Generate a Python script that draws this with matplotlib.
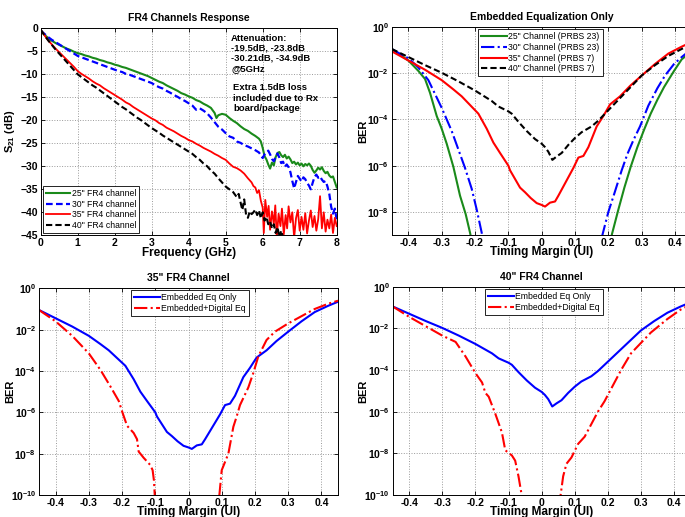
import numpy as np
import matplotlib
matplotlib.use("Agg")
import matplotlib.pyplot as plt
from matplotlib.ticker import FixedLocator, FuncFormatter

plt.rcParams['font.family'] = ['Liberation Sans', 'DejaVu Sans']
plt.rcParams['mathtext.fontset'] = 'custom'
plt.rcParams['mathtext.bf'] = 'Liberation Sans:bold'
plt.rcParams['mathtext.rm'] = 'Liberation Sans:bold'
plt.rcParams['mathtext.default'] = 'bf'

GREEN = '#1a8a1a'
BLUE = '#0000ff'
RED = '#ff0000'
BLACK = '#000000'

# ---- FR4 channel response (S21 in dB vs GHz) ----
f25 = [0.0, 0.1, 0.2, 0.3, 0.4, 0.5, 0.6, 0.7, 0.8, 0.9, 1.0, 1.1, 1.2, 1.3, 1.4, 1.5, 1.6, 1.7, 1.8, 1.9,
       2.0, 2.1, 2.2, 2.3, 2.4, 2.5, 2.6, 2.7, 2.8, 2.9, 3.0, 3.1, 3.2, 3.3, 3.4, 3.5, 3.6, 3.7, 3.8, 3.9,
       4.0, 4.1, 4.2, 4.3, 4.4, 4.5, 4.6, 4.7, 4.75, 4.8, 4.9, 5.0, 5.1, 5.2, 5.3, 5.4, 5.5, 5.6, 5.7, 5.8,
       5.9, 5.95, 6.0, 6.05, 6.1, 6.15, 6.2, 6.25, 6.3, 6.35, 6.4, 6.45, 6.5, 6.55, 6.6, 6.65, 6.7, 6.75,
       6.8, 6.85, 6.9, 6.95, 7.0, 7.05, 7.1, 7.15, 7.2, 7.25, 7.3, 7.35, 7.4, 7.45, 7.5, 7.55, 7.6, 7.65,
       7.7, 7.75, 7.8, 7.85, 7.9, 7.95, 8.0]
s25 = [-0.5, -1.4, -2.1, -2.7, -3.2, -3.6, -4.0, -4.4, -4.7, -5.1, -5.4, -5.6, -5.9, -6.1, -6.4, -6.6, -6.9, -7.1, -7.4, -7.6,
       -7.9, -8.1, -8.4, -8.6, -8.9, -9.2, -9.5, -9.8, -10.1, -10.4, -10.8, -11.2, -11.6, -11.9, -12.4, -12.8, -13.2, -13.6, -14.1, -14.4,
       -14.8, -15.1, -15.6, -15.9, -16.4, -16.8, -17.3, -18.4, -19.5, -18.9, -18.6, -18.8, -19.5, -20.1, -20.6, -21.3, -21.9, -22.3, -22.9, -23.4,
       -24.0, -24.6, -26.0, -27.8, -28.5, -29.6, -30.5, -29.2, -29.8, -28.0, -27.1, -26.9, -27.6, -28.0, -27.5, -28.3, -27.9, -28.5,
       -29.3, -29.0, -29.6, -29.2, -29.8, -29.4, -30.0, -29.5, -29.8, -29.4, -29.9, -30.8, -31.4, -30.9, -30.3, -30.7, -30.2, -31.0,
       -31.5, -31.2, -32.0, -32.4, -32.2, -33.4, -34.6]

f30 = [0.0, 0.1, 0.2, 0.3, 0.4, 0.5, 0.6, 0.7, 0.8, 0.9, 1.0, 1.1, 1.2, 1.3, 1.4, 1.5, 1.6, 1.7, 1.8, 1.9,
       2.0, 2.1, 2.2, 2.3, 2.4, 2.5, 2.6, 2.7, 2.8, 2.9, 3.0, 3.1, 3.2, 3.3, 3.4, 3.5, 3.6, 3.7, 3.8, 3.9,
       4.0, 4.1, 4.2, 4.3, 4.4, 4.5, 4.6, 4.7, 4.8, 4.9, 5.0, 5.1, 5.2, 5.3, 5.4, 5.5, 5.6, 5.7, 5.8, 5.9,
       5.95, 6.0, 6.05, 6.1, 6.15, 6.2, 6.25, 6.3, 6.35, 6.4, 6.45, 6.5, 6.55, 6.6, 6.65, 6.7, 6.75, 6.8,
       6.85, 6.9, 6.95, 7.0, 7.05, 7.1, 7.15, 7.2, 7.25, 7.3, 7.35, 7.4, 7.45, 7.5, 7.55, 7.6, 7.65, 7.7,
       7.75, 7.8, 7.85, 7.9, 7.95, 8.0]
s30 = [-0.5, -1.2, -1.9, -2.5, -3.0, -3.5, -4.0, -4.5, -5.0, -5.5, -6.0, -6.3, -6.6, -6.9, -7.2, -7.5, -7.8, -8.1, -8.4, -8.7,
       -9.0, -9.3, -9.5, -9.9, -10.1, -10.4, -10.7, -11.0, -11.3, -11.6, -11.9, -12.4, -12.8, -13.1, -13.6, -14.0, -14.5, -14.9, -15.4, -15.8,
       -16.3, -16.8, -17.7, -17.4, -17.9, -18.5, -19.4, -20.4, -21.4, -22.0, -22.8, -23.5, -23.8, -24.6, -24.9, -25.4, -25.7, -26.1, -26.5, -27.0,
       -27.6, -28.2, -27.4, -27.0, -26.6, -27.4, -28.4, -28.9, -28.0, -27.2, -28.1, -29.3, -29.0, -30.1, -29.6, -30.2, -31.3, -33.2,
       -34.8, -33.4, -32.1, -32.7, -33.3, -32.4, -32.8, -33.6, -34.2, -35.0, -33.6, -32.3, -31.8, -32.5, -32.2, -32.9, -33.4, -33.2,
       -34.4, -36.0, -38.8, -40.3, -39.2, -41.7]

f35 = [0.0, 0.1, 0.2, 0.3, 0.4, 0.5, 0.6, 0.7, 0.8, 0.9, 1.0, 1.1, 1.2, 1.3, 1.4, 1.5, 1.6, 1.7, 1.8, 1.9,
       2.0, 2.1, 2.2, 2.3, 2.4, 2.5, 2.6, 2.7, 2.8, 2.9, 3.0, 3.1, 3.2, 3.3, 3.4, 3.5, 3.6, 3.7, 3.8, 3.9,
       4.0, 4.1, 4.2, 4.3, 4.4, 4.5, 4.6, 4.7, 4.8, 4.9, 5.0, 5.1, 5.2, 5.3, 5.4, 5.5, 5.6, 5.7, 5.75, 5.8,
       5.85, 5.9, 5.95, 6.0, 6.03, 6.07, 6.12, 6.16, 6.2, 6.25, 6.3, 6.34, 6.38, 6.43, 6.48, 6.52, 6.57, 6.62,
       6.66, 6.7, 6.75, 6.8, 6.85, 6.9, 6.95, 7.0, 7.05, 7.1, 7.15, 7.2, 7.25, 7.3, 7.35, 7.4, 7.45, 7.5,
       7.55, 7.6, 7.65, 7.7, 7.75, 7.8, 7.85, 7.9, 7.95, 8.0]
s35 = [-0.3, -1.5, -2.6, -3.5, -4.4, -5.2, -6.0, -6.8, -7.6, -8.4, -9.3, -9.9, -10.4, -10.9, -11.5, -12.0, -12.4, -13.0, -13.5, -14.0,
       -14.5, -15.0, -15.5, -16.1, -16.5, -17.1, -17.6, -18.1, -18.6, -19.1, -19.6, -20.0, -20.6, -21.0, -21.6, -22.0, -22.4, -22.9, -23.4, -23.8,
       -24.3, -24.6, -25.1, -25.5, -26.0, -26.4, -26.8, -27.3, -27.7, -28.2, -28.6, -29.4, -30.1, -30.4, -30.9, -31.6, -32.6, -33.5, -34.3, -34.6,
       -35.8, -35.2, -37.5, -39.0, -44.5, -37.3, -41.0, -38.6, -43.8, -39.8, -42.5, -38.5, -45.5, -40.3, -43.0, -39.2, -44.8, -40.6,
       -43.5, -38.7, -42.2, -40.0, -45.5, -41.3, -39.5, -44.0, -41.0, -43.8, -40.2, -44.6, -41.8, -39.6, -43.2, -40.8, -44.0, -41.5,
       -36.5, -43.5, -40.0, -44.2, -41.6, -43.5, -40.5, -44.5, -41.2, -43.0]

f40 = [0.0, 0.1, 0.2, 0.3, 0.4, 0.5, 0.6, 0.7, 0.8, 0.9, 1.0, 1.1, 1.2, 1.3, 1.4, 1.5, 1.6, 1.7, 1.8, 1.9,
       2.0, 2.1, 2.2, 2.3, 2.4, 2.5, 2.6, 2.7, 2.8, 2.9, 3.0, 3.1, 3.2, 3.3, 3.4, 3.5, 3.6, 3.7, 3.8, 3.9,
       4.0, 4.1, 4.2, 4.3, 4.4, 4.5, 4.6, 4.7, 4.8, 4.9, 5.0, 5.1, 5.2, 5.3, 5.35, 5.4, 5.45, 5.5, 5.55, 5.6,
       5.65, 5.7, 5.75, 5.8, 5.85, 5.9, 5.95, 6.0, 6.05, 6.1, 6.15, 6.2, 6.25, 6.3, 6.35, 6.4, 6.45, 6.5,
       6.55, 6.6]
s40 = [-0.3, -1.5, -2.6, -3.6, -4.6, -5.5, -6.4, -7.3, -8.2, -9.1, -10.0, -10.6, -11.2, -11.8, -12.4, -12.9, -13.5, -14.1, -14.7, -15.3,
       -15.9, -16.5, -17.1, -17.6, -18.2, -18.8, -19.4, -19.9, -20.5, -21.1, -21.7, -22.2, -22.7, -23.3, -23.8, -24.3, -24.8, -25.3, -25.8, -26.3,
       -26.8, -27.3, -28.0, -28.6, -29.4, -30.0, -30.9, -31.6, -32.6, -33.5, -34.4, -35.0, -35.6, -36.7, -36.0, -37.8, -39.5, -37.2, -40.5, -41.2,
       -39.8, -40.4, -40.0, -39.4, -40.6, -39.6, -41.3, -40.0, -41.8, -41.0, -42.6, -42.0, -43.5, -42.6, -44.5, -43.2, -45.5, -44.0,
       -45.5, -47.0]

fr4_labels = ['25" FR4 channel', '30" FR4 channel', '35" FR4 channel', '40" FR4 channel']

# ---- BER bathtub curves (log10 BER vs timing margin in UI) ----
t25 = [-0.45, -0.42, -0.4, -0.37, -0.35, -0.335, -0.315, -0.3, -0.285, -0.265, -0.245, -0.228, -0.215, -0.205,
       0.2, 0.211, 0.23, 0.248, 0.267, 0.287, 0.307, 0.327, 0.347, 0.367, 0.397, 0.42, 0.45]
b25 = [-0.95, -1.25, -1.45, -1.9, -2.25, -2.85, -3.85, -4.4, -5.05, -6.05, -7.3, -8.1, -8.9, -9.6,
       -9.6, -8.95, -7.9, -6.95, -6.05, -5.2, -4.45, -3.75, -3.15, -2.6, -1.9, -1.4, -1.05]

t30 = [-0.45, -0.42, -0.4, -0.37, -0.34, -0.3, -0.27, -0.25, -0.23, -0.21, -0.195, -0.18, -0.172,
       0.172, 0.183, 0.2, 0.218, 0.24, 0.257, 0.275, 0.295, 0.32, 0.347, 0.37, 0.397, 0.42, 0.45]
b30 = [-0.95, -1.2, -1.35, -1.75, -2.3, -3.5, -4.5, -5.3, -6.1, -7.0, -7.9, -8.9, -9.6,
       -9.6, -8.95, -8.0, -7.2, -6.2, -5.5, -4.9, -4.3, -3.4, -2.65, -2.1, -1.6, -1.3, -0.95]

# embedded equalization only
t35 = [-0.45, -0.4, -0.35, -0.3, -0.265, -0.24, -0.2, -0.19, -0.165, -0.145, -0.125, -0.1, -0.095, -0.065,
       -0.05, -0.033, -0.015, 0.0, 0.01, 0.025, 0.04, 0.05, 0.065, 0.08, 0.095, 0.11, 0.125, 0.14, 0.165,
       0.185, 0.205, 0.235, 0.265, 0.3, 0.34, 0.38, 0.42, 0.45]
b35 = [-1.05, -1.45, -1.85, -2.3, -2.7, -3.0, -3.6, -3.75, -4.4, -5.0, -5.45, -6.0, -6.2, -6.95,
       -7.15, -7.4, -7.62, -7.7, -7.77, -7.6, -7.55, -7.3, -6.9, -6.5, -6.1, -5.65, -5.58, -5.2, -4.3,
       -3.85, -3.35, -3.0, -2.55, -2.1, -1.6, -1.15, -0.85, -0.65]

t40 = [-0.45, -0.4, -0.35, -0.3, -0.25, -0.2, -0.15, -0.13, -0.1, -0.09, -0.07, -0.045, -0.02, 0.0, 0.01,
       0.02, 0.032, 0.045, 0.06, 0.08, 0.1, 0.12, 0.15, 0.17, 0.2, 0.23, 0.26, 0.3, 0.34, 0.38, 0.42, 0.45]
b40 = [-0.95, -1.3, -1.65, -1.98, -2.35, -2.75, -3.2, -3.44, -3.65, -3.75, -4.1, -4.5, -4.85, -5.05, -5.2,
       -5.4, -5.75, -5.6, -5.45, -5.1, -4.8, -4.55, -4.3, -4.05, -3.6, -3.15, -2.7, -2.1, -1.65, -1.25, -0.95, -0.75]

# embedded + digital equalization
t35d = [-0.45, -0.4, -0.35, -0.3, -0.265, -0.235, -0.21, -0.2, -0.185, -0.165, -0.155, -0.15, -0.135, -0.115,
        -0.108, -0.104, -0.1,
        0.09, 0.1, 0.11, 0.12, 0.135, 0.145, 0.155, 0.18, 0.195, 0.21, 0.235, 0.26, 0.3, 0.34, 0.38, 0.42, 0.45]
b35d = [-1.05, -1.6, -2.3, -3.15, -3.95, -4.75, -5.45, -5.95, -6.65, -7.0, -7.3, -7.9, -8.2, -8.55,
        -8.8, -9.3, -10.5,
        -10.5, -8.8, -8.4, -8.0, -6.7, -6.2, -5.65, -4.8, -4.1, -3.3, -2.5, -2.1, -1.7, -1.35, -1.0, -0.75, -0.6]

t40d = [-0.45, -0.4, -0.35, -0.3, -0.26, -0.23, -0.2, -0.18, -0.17, -0.16, -0.14, -0.12, -0.11, -0.09,
        -0.08, -0.07, -0.055,
        0.053, 0.065, 0.075, 0.09, 0.11, 0.13, 0.15, 0.17, 0.19, 0.21, 0.24, 0.27, 0.3, 0.33, 0.38, 0.42, 0.45]
b40d = [-0.95, -1.45, -1.9, -2.35, -2.65, -3.35, -4.15, -4.6, -5.1, -5.28, -6.1, -7.0, -7.85, -8.1,
        -8.35, -9.1, -10.5,
        -10.5, -9.1, -8.5, -8.2, -7.55, -7.2, -6.6, -6.0, -5.5, -4.9, -4.0, -3.2, -2.7, -2.2, -1.55, -1.1, -0.85]

prbs_labels = ['25" Channel (PRBS 23)', '30" Channel (PRBS 23)', '35" Channel (PRBS 7)', '40" Channel (PRBS 7)']
eq_labels = ['Embedded Eq Only', 'Embedded+Digital Eq']
margin_ticks = [-0.4, -0.3, -0.2, -0.1, 0, 0.1, 0.2, 0.3, 0.4]

W, H = 685, 517
fig = plt.figure(figsize=(W / 100, H / 100), dpi=100)


def px_axes(l, t, r, b):
    return fig.add_axes([l / W, 1 - b / H, (r - l) / W, (b - t) / H])


def style(ax, ylab_x):
    ax.grid(True, linestyle=':', color='#9a9a9a', linewidth=0.7)
    ax.tick_params(direction='in', length=3, width=0.6, top=True, right=True,
                   labelsize=7.5, pad=2)
    for lab in ax.get_xticklabels() + ax.get_yticklabels():
        lab.set_fontweight('bold')
    for sp in ax.spines.values():
        sp.set_linewidth(0.7)
    ax.yaxis.set_label_coords(ylab_x, 0.5)
    ax.xaxis.set_label_coords(0.5, -0.055)
    ax.xaxis.label.set_va('top')


def add_legend(ax, loc, anchor, handlelength):
    leg = ax.legend(loc=loc, bbox_to_anchor=anchor, fontsize=6.2, handlelength=handlelength,
                    labelspacing=0.2, borderpad=0.35, handletextpad=0.2, borderaxespad=0.25,
                    fancybox=False, framealpha=1, edgecolor='black')
    leg.get_frame().set_linewidth(0.6)


def ber_axes(ax, title, bottom_exp, ticks, ylab_x):
    ax.set_yscale('log')
    ax.set_xlim(-0.45, 0.45)
    ax.set_ylim(10.0 ** bottom_exp, 1)
    ax.yaxis.set_major_locator(FixedLocator([10.0 ** e for e in ticks]))
    ax.yaxis.set_minor_locator(FixedLocator([]))
    ax.yaxis.set_major_formatter(FuncFormatter(lambda v, p: r'$10^{%d}$' % round(np.log10(v))))
    ax.set_xticks(margin_ticks)
    ax.set_xticklabels(['%g' % v for v in margin_ticks])
    ax.set_title(title, fontsize=7.5, fontweight='bold', pad=5)
    ax.set_xlabel('Timing Margin (UI)', fontsize=8.5, fontweight='bold')
    ax.set_ylabel('BER', fontsize=8, fontweight='bold')
    style(ax, ylab_x)


def ber(vals):
    return 10.0 ** np.array(vals)


# top left: channel response
ax1 = px_axes(40.7, 28.3, 336.7, 235.3)
ax1.plot(f25, s25, color=GREEN, lw=1.5, label=fr4_labels[0])
ax1.plot(f30, s30, color=BLUE, lw=1.6, ls=(0, (3, 1.5)), label=fr4_labels[1])
ax1.plot(f35, s35, color=RED, lw=1.3, label=fr4_labels[2])
ax1.plot(f40, s40, color=BLACK, lw=1.5, ls=(0, (3, 1.5)), label=fr4_labels[3])
ax1.set_xlim(0, 8)
ax1.set_ylim(-45, 0)
ax1.set_xticks(range(0, 9))
ax1.set_yticks(range(-45, 1, 5))
ax1.set_title('FR4 Channels Response', fontsize=7.5, fontweight='bold', pad=5)
ax1.set_xlabel('Frequency (GHz)', fontsize=8.5, fontweight='bold')
ax1.set_ylabel(r'$S_{21}$ (dB)', fontsize=8, fontweight='bold')
style(ax1, -0.08)
ax1.text(5.15, -1.2, 'Attenuation:\n-19.5dB, -23.8dB\n-30.21dB, -34.9dB\n@5GHz',
         fontsize=6.8, fontweight='bold', va='top', ha='left', linespacing=1.15)
ax1.text(5.2, -12.0, 'Extra 1.5dB loss\nincluded due to Rx\nboard/package',
         fontsize=6.8, fontweight='bold', va='top', ha='left', linespacing=1.15)
add_legend(ax1, 'lower left', None, 2.8)

# top right: embedded equalization only
ax2 = px_axes(391.7, 27.0, 691.7, 235.0)
ax2.plot(t25, ber(b25), color=GREEN, lw=1.5, label=prbs_labels[0])
ax2.plot(t30, ber(b30), color=BLUE, lw=1.5, ls='-.', label=prbs_labels[1])
ax2.plot(t35, ber(b35), color=RED, lw=1.5, label=prbs_labels[2])
ax2.plot(t40, ber(b40), color=BLACK, lw=1.5, ls=(0, (3, 1.5)), label=prbs_labels[3])
ber_axes(ax2, 'Embedded Equalization Only', -9, [0, -2, -4, -6, -8], -0.079)
add_legend(ax2, 'upper center', (0.495, 1.0), 3.0)

# bottom left: 35" channel
ax3 = px_axes(39.0, 288.3, 338.0, 495.0)
ax3.plot(t35, ber(b35), color=BLUE, lw=1.5, label=eq_labels[0])
ax3.plot(t35d, ber(b35d), color=RED, lw=1.5, ls='-.', label=eq_labels[1])
ber_axes(ax3, '35" FR4 Channel', -10, [0, -2, -4, -6, -8, -10], -0.08)
add_legend(ax3, 'upper center', (0.505, 1.0), 3.0)

# bottom right: 40" channel
ax4 = px_axes(392.7, 286.7, 690.6, 495.0)
ax4.plot(t40, ber(b40), color=BLUE, lw=1.5, label=eq_labels[0])
ax4.plot(t40d, ber(b40d), color=RED, lw=1.5, ls='-.', label=eq_labels[1])
ber_axes(ax4, '40" FR4 Channel', -10, [0, -2, -4, -6, -8, -10], -0.083)
add_legend(ax4, 'upper center', (0.508, 1.0), 3.0)

fig.savefig('out.png', dpi=100)
